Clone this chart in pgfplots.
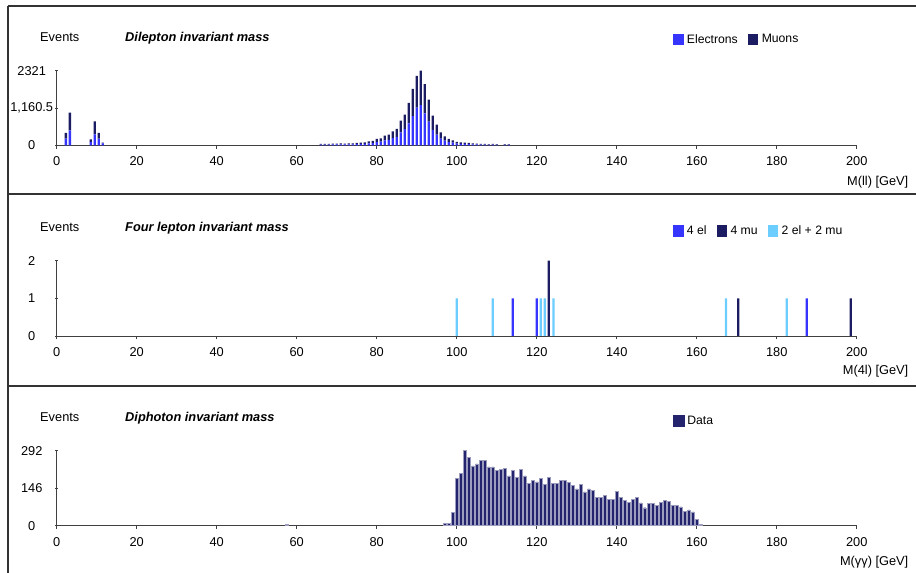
\documentclass[border=0pt]{standalone}
\usepackage{fontspec}
\setmainfont{Liberation Sans}
\usepackage{pgfplots}
\pgfplotsset{compat=1.18}
\usepackage{pgfplotstable}

\definecolor{elcol}{HTML}{3535FF}
\definecolor{mucol}{HTML}{1C1C62}
\definecolor{llcol}{HTML}{6CCDFF}
\definecolor{datcol}{HTML}{24246E}
\definecolor{framecol}{HTML}{333333}

\pgfplotstableread{
x el mu
2.3 207 177
3.3 466 550
8.5 100 87
9.5 342 404
10.5 207 177
11.5 60 23
66 20 21
67 20 21
68 21 20
69 26 26
70 25 27
71 31 31
72 26 26
73 31 31
74 32 30
75 37 35
76 42 41
77 47 46
78 62 62
79 68 67
80 100 97
81 112 106
82 155 146
83 172 160
84 225 210
85 265 243
86 400 367
87 500 454
88 680 636
89 910 842
90 1170 990
91 1250 1071
92 990 910
93 740 681
94 480 443
95 335 308
96 210 194
97 145 135
98 100 97
99 80 76
100 55 49
101 48 45
102 42 41
103 37 35
104 32 30
105 27 25
106 21 20
107 21 20
108 16 15
109 20 21
110 15 16
112 16 15
113 15 16
}\dilep

\pgfplotstableread{
x y
57.5 5
97 10
98 10
99 52
100 185
101 205
102 292
103 267
104 233
105 241
106 254
107 254
108 229
109 229
110 215
111 220
112 223
113 194
114 215
115 189
116 220
117 194
118 166
119 176
120 171
121 184
122 161
123 189
124 166
125 166
126 176
127 176
128 168
129 156
130 143
131 161
132 132
133 143
134 138
135 111
136 111
137 119
138 103
139 103
140 134
141 111
142 99
143 91
144 103
145 111
146 89
147 70
148 86
149 86
150 78
151 91
152 99
153 94
154 78
155 78
156 73
157 57
158 62
159 54
160 26
161 5
}\diphot

\newcommand{\lab}{\fontsize{12.8}{15}\selectfont}
\newcommand{\leg}{\fontsize{12.2}{14}\selectfont}

\pgfplotsset{
  panel/.style={
    scale only axis, width=800pt, anchor=south west,
    xmin=0, xmax=200, ymin=0,
    enlargelimits=false,
    axis lines=left,
    axis line style={-, draw=black!75, line width=0.9pt},
    xtick={0,20,...,200},
    tick align=outside, major tick length=3.5pt,
    tick style={draw=black!75, line width=0.9pt},
    every major y tick/.append style={xshift=1.75pt},
    /pgf/number format/assume math mode=true,
    ticklabel style={font=\lab, inner sep=0pt},
    xticklabel style={anchor=north, yshift=-8pt},
    yticklabel style={anchor=center, xshift=-21.5pt},
    legend style={draw=none, fill=none, inner sep=0pt, anchor=west,
      font=\leg, column sep=3.4pt,
      /tikz/every even column/.append style={column sep=10pt},
      nodes={inner sep=0pt}},
    legend columns=-1,
    clip=false,
  },
}

\begin{document}
\begin{tikzpicture}
\useasboundingbox (0pt,0pt) rectangle (916pt,573pt);
% frame
\draw[framecol, line width=2pt] (7.5pt,567pt) -- (916pt,567pt);
\draw[framecol, line width=2pt] (7.5pt,567pt) -- (7.5pt,0pt);
\draw[framecol, line width=2.5pt] (7.5pt,379pt) -- (916pt,379pt);
\draw[framecol, line width=2.5pt] (7.5pt,187pt) -- (916pt,187pt);

% ---------- top panel ----------
\begin{axis}[panel, at={(56.7pt,427.7pt)}, height=74.6pt,
  ymax=2321, ytick={0,1160.5,2321}, yticklabels={0,{1,160.5},2321},
  ybar stacked, bar width=2.3pt,
  legend style={at={(axis description cs:0.77,1.418)}}]
\addplot[fill=elcol, draw=none,
  legend image code/.code={\fill[elcol] (0pt,-5.7pt) rectangle (10.6pt,5.7pt);}]
  table[x=x,y=el]{\dilep};
\addlegendentry{Electrons}
\addplot[fill=mucol, draw=none,
  legend image code/.code={\fill[mucol] (0pt,-5.7pt) rectangle (10.6pt,5.7pt);}]
  table[x=x,y=mu]{\dilep};
\addlegendentry{Muons}
\end{axis}
\node[anchor=base west, inner sep=0pt, font=\lab] at (40pt,531.7pt) {Events};
\node[anchor=base west, inner sep=0pt, font=\lab\bfseries\itshape] at (125pt,531.7pt) {Dilepton invariant mass};
\node[anchor=base east, inner sep=0pt, font=\lab] at (908.5pt,387.5pt) {M(ll) [GeV]};

% ---------- middle panel ----------
\begin{axis}[panel, at={(56.7pt,237pt)}, height=75.3pt,
  ymax=2, ytick={0,1,2},
  legend style={at={(axis description cs:0.77,1.394)}}]
\addplot[ybar, bar width=2.3pt, bar shift=0pt, fill=elcol, draw=none,
  legend image code/.code={\fill[elcol] (0pt,-5.7pt) rectangle (10.6pt,5.7pt);}]
  coordinates {(114,1) (120,1) (187.5,1)};
\addlegendentry{4 el}
\addplot[ybar, bar width=2.3pt, bar shift=0pt, fill=mucol, draw=none,
  legend image code/.code={\fill[mucol] (0pt,-5.7pt) rectangle (10.6pt,5.7pt);}]
  coordinates {(123,2) (170.4,1) (198.5,1)};
\addlegendentry{4 mu}
\addplot[ybar, bar width=2.3pt, bar shift=0pt, fill=llcol, draw=none,
  legend image code/.code={\fill[llcol] (0pt,-5.7pt) rectangle (10.6pt,5.7pt);}]
  coordinates {(100,1) (109,1) (121,1) (122,1) (124.2,1) (167.3,1) (182.5,1)};
\addlegendentry{2 el + 2 mu}
\end{axis}
\node[anchor=base west, inner sep=0pt, font=\lab] at (40pt,341.8pt) {Events};
\node[anchor=base west, inner sep=0pt, font=\lab\bfseries\itshape] at (125pt,341.8pt) {Four lepton invariant mass};
\node[anchor=base east, inner sep=0pt, font=\lab] at (908.5pt,198.5pt) {M(4l) [GeV]};

% ---------- bottom panel ----------
\begin{axis}[panel, at={(56.7pt,47.3pt)}, height=75pt,
  ymax=292, ytick={0,146,292},
  legend style={at={(axis description cs:0.77,1.396)}}]
\addplot[ybar, bar width=2.2pt, bar shift=0pt, fill=datcol, draw=datcol!45, line width=0.4pt,
  legend image code/.code={\fill[datcol] (0pt,-5.7pt) rectangle (10.6pt,5.7pt);}]
  table[x=x,y=y]{\diphot};
\addlegendentry{Data}
\end{axis}
\node[anchor=base west, inner sep=0pt, font=\lab] at (40pt,151.7pt) {Events};
\node[anchor=base west, inner sep=0pt, font=\lab\bfseries\itshape] at (125pt,151.7pt) {Diphoton invariant mass};
\node[anchor=base east, inner sep=0pt, font=\lab] at (908.5pt,7.5pt) {M(γγ) [GeV]};
\end{tikzpicture}
\end{document}
